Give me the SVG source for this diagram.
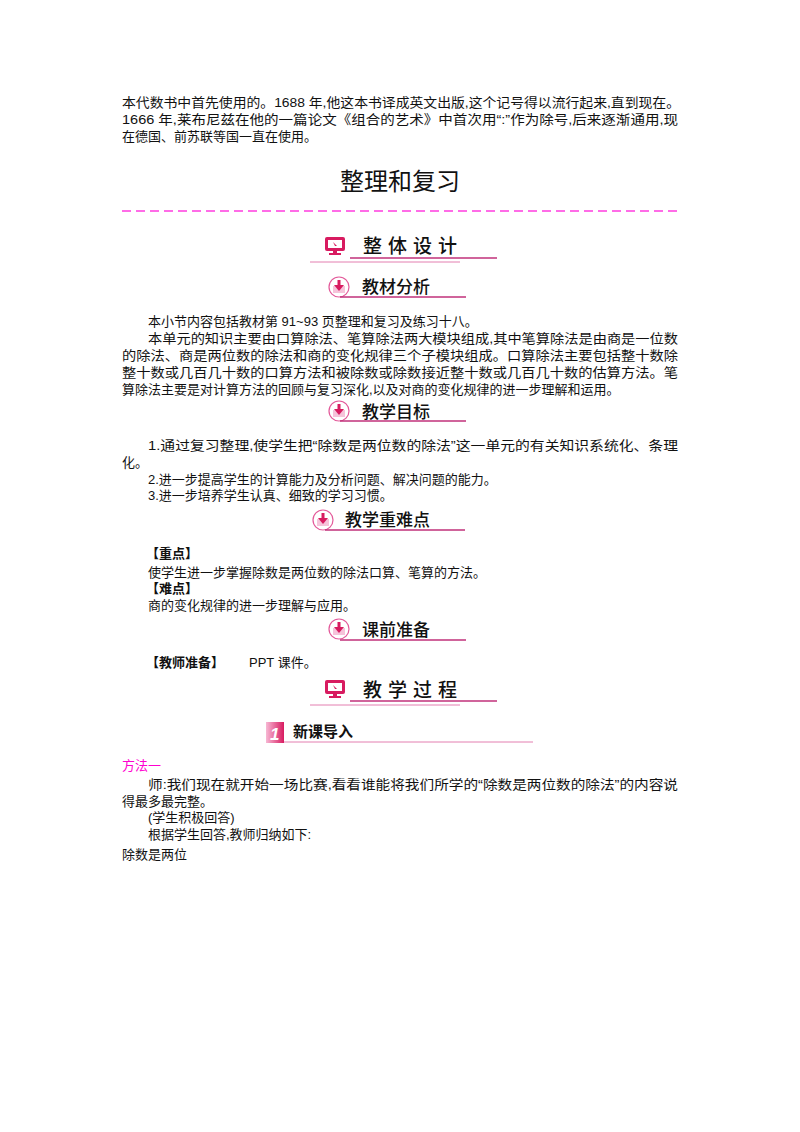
<svg xmlns="http://www.w3.org/2000/svg" width="800" height="1132" viewBox="0 0 800 1132">
<style>
text{font-family:"Liberation Sans","Noto Sans CJK SC",sans-serif;fill:#111}
.b{font-size:13px}
.h{font-size:17px;font-weight:500}
.hs{font-size:19px;letter-spacing:6px;font-weight:500}
.ul{stroke:#c0307a;stroke-width:1.3}
.ul2{stroke:#e37fb0;stroke-width:1}
.ic{fill:#fff;stroke:#e35a9a;stroke-width:1.2}
</style>
<defs>
<g id="circ"><circle r="10" class="ic"/><rect x="-6" y="-1" width="12" height="7" fill="#f6c3da"/><rect x="-1.5" y="-7" width="3" height="6" fill="#d81b60"/><path d="M-5,-2 L5,-2 L0,4 Z" fill="#d81b60"/></g>
<g id="mon"><rect x="0" y="0" width="20" height="14" rx="2" fill="#d81b60"/><rect x="3" y="3" width="14" height="8" fill="#fff"/><path d="M8,5 L12,9 L10,9 Z" fill="#d81b60"/><rect x="8" y="14" width="4" height="2" fill="#d81b60"/><rect x="4" y="16" width="12" height="2" fill="#d81b60"/></g>
<linearGradient id="pg" x1="0" x2="1"><stop offset="0" stop-color="#f7b8d4"/><stop offset="1" stop-color="#d81b60"/></linearGradient>
</defs>
<text class="b" x="122" y="107" textLength="558" lengthAdjust="spacingAndGlyphs">本代数书中首先使用的。1688 年,他这本书译成英文出版,这个记号得以流行起来,直到现在。</text>
<text class="b" x="122" y="124" textLength="556" lengthAdjust="spacingAndGlyphs">1666 年,莱布尼兹在他的一篇论文《组合的艺术》中首次用“:”作为除号,后来逐渐通用,现</text>
<text class="b" x="122" y="141">在德国、前苏联等国一直在使用。</text>
<text x="400" y="190" text-anchor="middle" font-size="24">整理和复习</text>
<line x1="122" y1="211" x2="678" y2="211" stroke="#ff3ce0" stroke-width="1.3" stroke-dasharray="9,5"/>

<g id="sec-zhengti"><use href="#mon" x="325" y="237"/><text class="hs" x="363" y="253">整体设计</text><line class="ul" x1="350" y1="258" x2="497" y2="258"/><line class="ul2" x1="310" y1="262" x2="460" y2="262"/></g>
<g id="sec-jiaocai"><use href="#circ" x="339" y="287"/><text class="h" x="362" y="293">教材分析</text><line class="ul" x1="340" y1="297" x2="466" y2="297"/></g>
<text class="b" x="148" y="326">本小节内容包括教材第 91~93 页整理和复习及练习十八。</text>
<text class="b" x="148" y="343" textLength="530" lengthAdjust="spacingAndGlyphs">本单元的知识主要由口算除法、笔算除法两大模块组成,其中笔算除法是由商是一位数</text>
<text class="b" x="122" y="360" textLength="556" lengthAdjust="spacingAndGlyphs">的除法、商是两位数的除法和商的变化规律三个子模块组成。口算除法主要包括整十数除</text>
<text class="b" x="122" y="377" textLength="556" lengthAdjust="spacingAndGlyphs">整十数或几百几十数的口算方法和被除数或除数接近整十数或几百几十数的估算方法。笔</text>
<text class="b" x="122" y="394">算除法主要是对计算方法的回顾与复习深化,以及对商的变化规律的进一步理解和运用。</text>
<g id="sec-mubiao"><use href="#circ" x="339" y="411"/><text class="h" x="362" y="418">教学目标</text><line class="ul" x1="340" y1="421" x2="466" y2="421"/></g>
<text class="b" x="148" y="450" textLength="530" lengthAdjust="spacingAndGlyphs">1.通过复习整理,使学生把“除数是两位数的除法”这一单元的有关知识系统化、条理</text>
<text class="b" x="122" y="467">化。</text>
<text class="b" x="148" y="484">2.进一步提高学生的计算能力及分析问题、解决问题的能力。</text>
<text class="b" x="148" y="500">3.进一步培养学生认真、细致的学习习惯。</text>
<g id="sec-zhongnan"><use href="#circ" x="323" y="520"/><text class="h" x="345" y="526">教学重难点</text><line class="ul" x1="325" y1="530" x2="465" y2="530"/></g>
<text class="b" x="146" y="558" font-weight="bold">【重点】</text>
<text class="b" x="148" y="577">使学生进一步掌握除数是两位数的除法口算、笔算的方法。</text>
<text class="b" x="146" y="593" font-weight="bold">【难点】</text>
<text class="b" x="148" y="610">商的变化规律的进一步理解与应用。</text>
<g id="sec-kqzb"><use href="#circ" x="339" y="629"/><text class="h" x="362" y="636">课前准备</text><line class="ul" x1="340" y1="640" x2="466" y2="640"/></g>
<text class="b" x="146" y="667" font-weight="bold">【教师准备】</text>
<text class="b" x="249" y="667">PPT 课件。</text>
<g id="sec-guocheng"><use href="#mon" x="325" y="680"/><text class="hs" x="363" y="697">教学过程</text><line class="ul" x1="350" y1="701" x2="497" y2="701"/><line class="ul2" x1="310" y1="705" x2="460" y2="705"/></g>
<g id="sec-xinke"><rect x="266" y="722" width="18" height="21" fill="url(#pg)"/><text x="270" y="740" font-size="17" font-style="italic" font-weight="bold" style="fill:#fff">1</text><text x="293" y="737" font-size="15" font-weight="bold">新课导入</text><line class="ul2" x1="284" y1="742" x2="533" y2="742"/></g>
<text class="b" x="122" y="770" style="fill:#ff00d0">方法一</text>
<text class="b" x="148" y="789" textLength="530" lengthAdjust="spacingAndGlyphs">师:我们现在就开始一场比赛,看看谁能将我们所学的“除数是两位数的除法”的内容说</text>
<text class="b" x="122" y="806">得最多最完整。</text>
<text class="b" x="148" y="822">(学生积极回答)</text>
<text class="b" x="148" y="839">根据学生回答,教师归纳如下:</text>
<text class="b" x="122" y="859">除数是两位</text>
</svg>
